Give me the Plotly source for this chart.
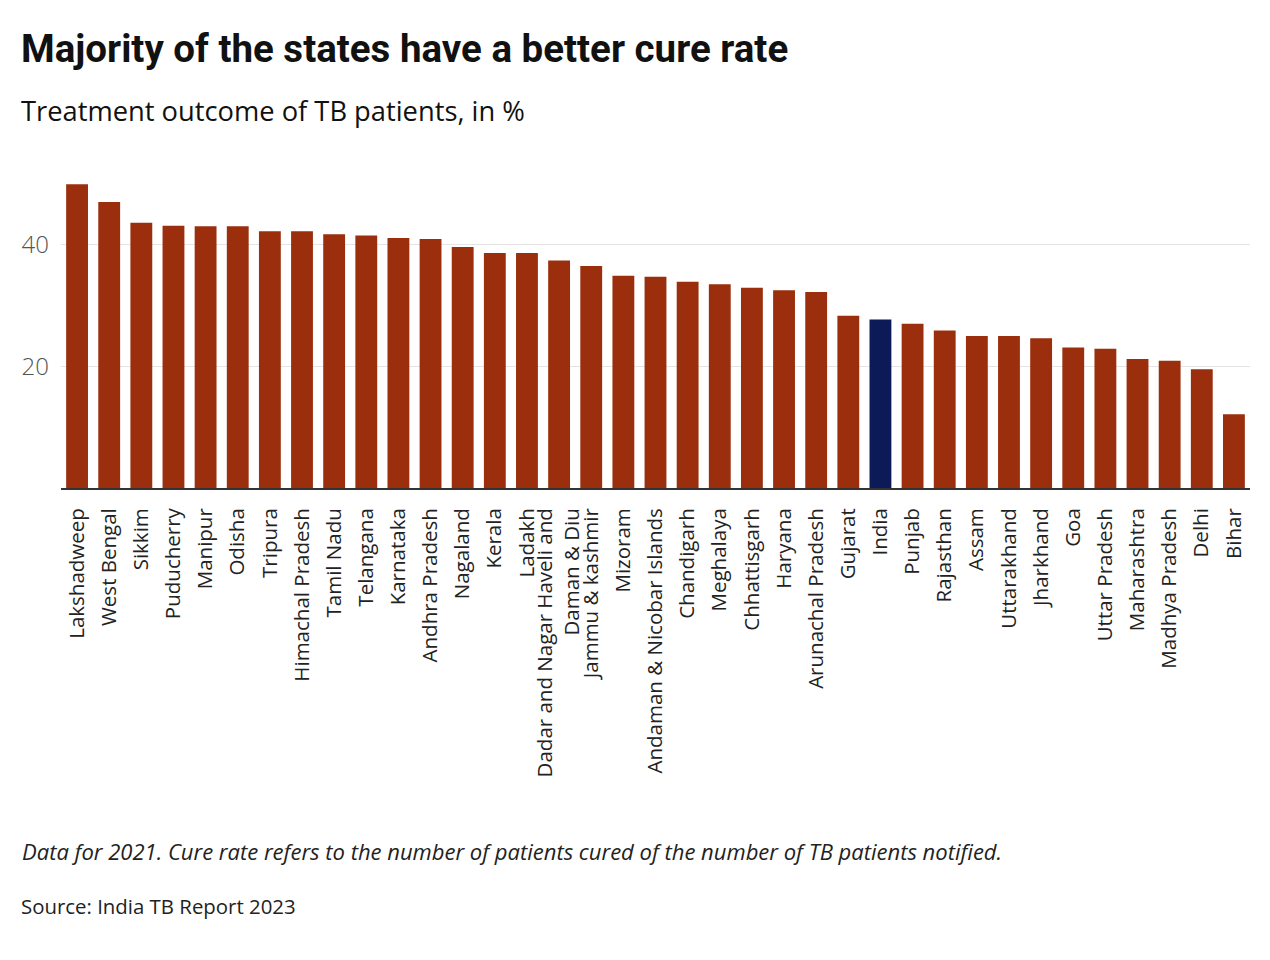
import plotly.graph_objects as go

states = [
    "Lakshadweep", "West Bengal", "Sikkim", "Puducherry", "Manipur", "Odisha",
    "Tripura", "Himachal Pradesh", "Tamil Nadu", "Telangana", "Karnataka",
    "Andhra Pradesh", "Nagaland", "Kerala", "Ladakh",
    "Dadar and Nagar Haveli and<br>Daman & Diu", "Jammu & kashmir", "Mizoram",
    "Andaman & Nicobar Islands", "Chandigarh", "Meghalaya", "Chhattisgarh",
    "Haryana", "Arunachal Pradesh", "Gujarat", "India", "Punjab", "Rajasthan",
    "Assam", "Uttarakhand", "Jharkhand", "Goa", "Uttar Pradesh", "Maharashtra",
    "Madhya Pradesh", "Delhi", "Bihar",
]
cure_rate = [
    49.9, 47.0, 43.6, 43.1, 43.0, 43.0,
    42.2, 42.2, 41.7, 41.5, 41.1,
    40.9, 39.6, 38.6, 38.6,
    37.4, 36.5, 34.9,
    34.7, 33.9, 33.5, 32.9,
    32.5, 32.2, 28.3, 27.7, 27.0, 25.9,
    25.0, 25.0, 24.6, 23.1, 22.9, 21.2,
    20.9, 19.5, 12.1,
]
y_ticks = [20, 40]

RED = "#9b2f0d"
NAVY = "#0c1a58"
colors = [NAVY if s == "India" else RED for s in states]

fig = go.Figure(go.Bar(x=states, y=cure_rate, marker=dict(color=colors, line=dict(width=0))))

# page body has an 8px margin; compensate so the photographed picture lines up
OFF = 8
PLOT_LEFT, PLOT_RIGHT = 61, 1250
PLOT_TOP, PLOT_BOTTOM = 170, 488
H = PLOT_BOTTOM - PLOT_TOP
W = PLOT_RIGHT - PLOT_LEFT

def py(pix):
    return (PLOT_BOTTOM - pix) / H

def px(pix):
    return (pix - PLOT_LEFT) / W

TEXT_FONT = "Open Sans, sans-serif"

fig.update_layout(
    width=1270, height=960,
    paper_bgcolor="white", plot_bgcolor="white",
    margin=dict(l=PLOT_LEFT - OFF, r=1270 - (PLOT_RIGHT - OFF), t=PLOT_TOP - OFF,
                b=960 - (PLOT_BOTTOM - OFF), autoexpand=False),
    bargap=0.32,
    showlegend=False,
    xaxis=dict(
        tickangle=-90, showline=True, linecolor="#333333", linewidth=2,
        showgrid=False, ticks="", ticklabelstandoff=10,
        tickfont=dict(family="Open Sans, sans-serif", size=20.5, color="#222222"),
    ),
    yaxis=dict(
        range=[0, H / 6.085], tickvals=y_ticks, showgrid=True, gridcolor="#e4e4e4",
        gridwidth=1, zeroline=False, ticks="", ticklabelstandoff=11,
        tickfont=dict(family="Open Sans, sans-serif", size=24, color="#555555", weight=300),
    ),
    annotations=[
        dict(text="<b>Majority of the states have a better cure rate</b>", xref="paper", yref="paper",
             x=px(19), y=py(48), xanchor="left", yanchor="middle", showarrow=False,
             font=dict(family="Roboto, sans-serif", size=38.5, color="#111111")),
        dict(text="Treatment outcome of TB patients, in %", xref="paper", yref="paper",
             x=px(19), y=py(111), xanchor="left", yanchor="middle", showarrow=False,
             font=dict(family=TEXT_FONT, size=27.3, color="#111111")),
        dict(text="<i>Data for 2021. Cure rate refers to the number of patients cured of the number of TB patients notified.</i>",
             xref="paper", yref="paper",
             x=px(20), y=py(851), xanchor="left", yanchor="middle", showarrow=False,
             font=dict(family=TEXT_FONT, size=22, color="#222222")),
        dict(text="Source: India TB Report 2023", xref="paper", yref="paper",
             x=px(19), y=py(906), xanchor="left", yanchor="middle", showarrow=False,
             font=dict(family=TEXT_FONT, size=20.4, color="#222222")),
    ],
)

fig.write_html("out.html")
